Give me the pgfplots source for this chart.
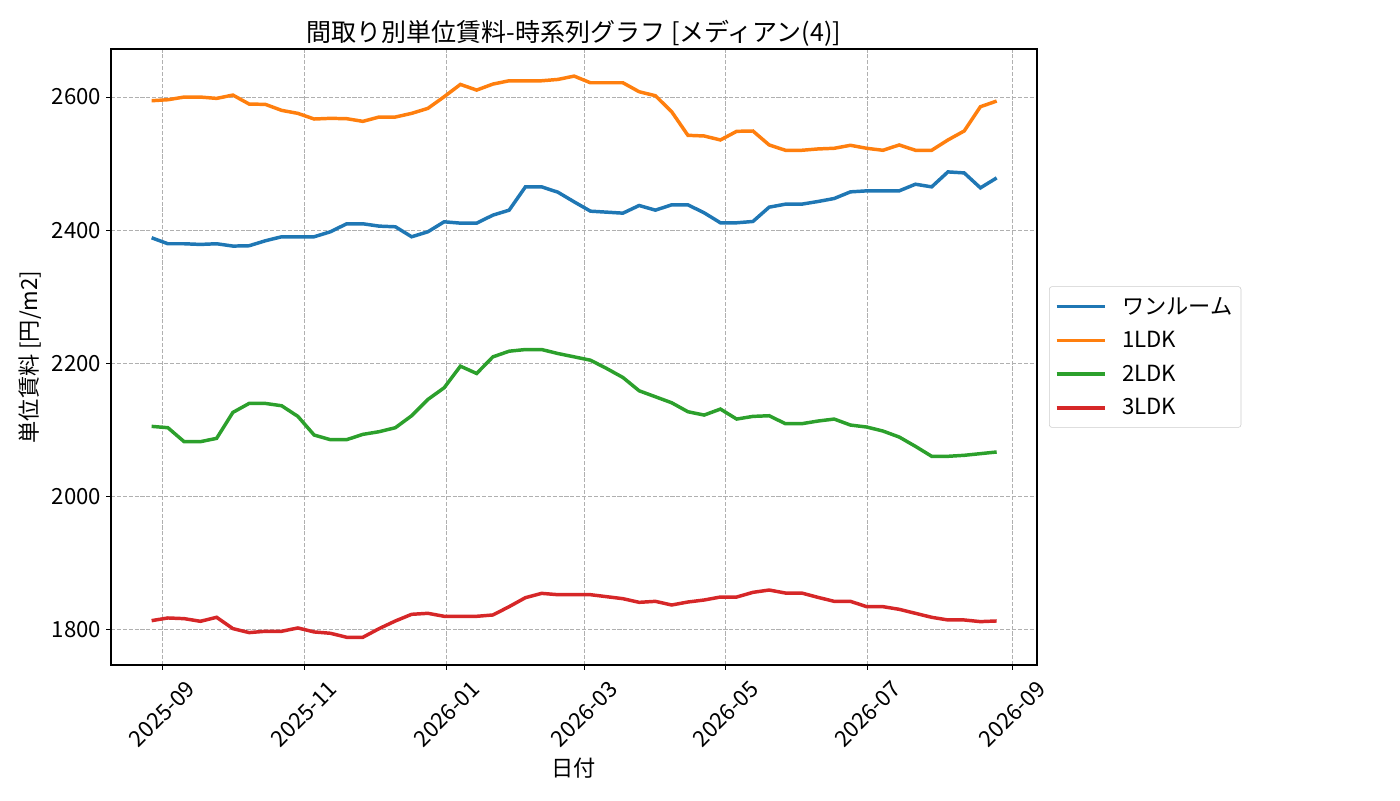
\documentclass[border=0pt]{standalone}
\usepackage{fontspec}
\setmainfont{Noto Sans CJK JP}
\usepackage{pgfplots}
\pgfplotsset{compat=1.18}
\usepackage{pgfplotstable}

\definecolor{c0}{HTML}{1F77B4}
\definecolor{c1}{HTML}{FF7F0E}
\definecolor{c2}{HTML}{2CA02C}
\definecolor{c3}{HTML}{D62728}
\definecolor{gridgray}{HTML}{B0B0B0}
\definecolor{framegray}{HTML}{CCCCCC}

% weekly medians, x = week index
\pgfplotstableread{
i one ldk1 ldk2 ldk3
0 2388.5 2594.5 2105 1813
1 2379.5 2596 2103 1817
2 2379.5 2600 2082 1816
3 2378.5 2600 2082 1812
4 2379.5 2598 2087 1818
5 2376 2603 2126 1801
6 2376.5 2589.5 2139.5 1795
7 2384 2589 2139.5 1797
8 2390 2580 2136 1797
9 2390 2575.5 2120 1802
10 2390 2567 2092 1796
11 2397.5 2568 2085 1794
12 2409.5 2567.5 2085 1788
13 2409.5 2563.5 2093 1788
14 2406 2570 2097 1801
15 2405 2570 2103 1812.5
16 2390 2575.5 2121 1822.5
17 2397.5 2583 2145.5 1824
18 2412.5 2600.5 2163 1819.5
19 2410.5 2619 2195.5 1819.5
20 2410.5 2610.5 2184.5 1819.5
21 2422.5 2619.5 2209.5 1821.5
22 2430 2624.5 2218 1834
23 2465 2624.5 2220.5 1847.5
24 2465 2624.5 2220.5 1854
25 2457 2626.5 2214.5 1852
26 2442.5 2631.5 2209.5 1852
27 2428.5 2621.5 2204.5 1852
28 2427 2621.5 2192 1849
29 2425.5 2621.5 2178.5 1846
30 2437 2608 2158.5 1840.5
31 2430 2602 2149.5 1842
32 2438 2578 2140.5 1836.5
33 2438 2542.5 2127 1841
34 2426 2541.5 2122 1844
35 2411 2535.5 2131 1848.5
36 2411 2548.5 2116 1848.5
37 2413 2549 2120 1855.5
38 2434.5 2528 2121 1859
39 2439 2520 2109 1854.5
40 2439 2520 2109 1854.5
41 2443 2522 2113 1848
42 2447.5 2523 2116 1842
43 2457.5 2527.5 2107 1842
44 2459 2523 2104 1834
45 2459 2520 2098 1834
46 2459 2528 2089 1830
47 2469 2520 2075 1824
48 2465 2520 2060 1818
49 2487.5 2535.5 2060 1814
50 2486 2549 2061.5 1814
51 2463.5 2585.5 2064 1811.5
52 2478.5 2594 2066.5 1812.5
}\rent

\begin{document}
\begin{tikzpicture}
\begin{axis}[
  name=ax,
  at={(0,0)}, anchor=south west,
  scale only axis,
  width=666.7pt, height=443.5pt,
  xmin=-2.5, xmax=54.48,
  ymin=1746.3, ymax=2672.2,
  xtick={0.65,9.39,18.15,26.62,35.33,44.04,52.96},
  xticklabels={2025-09,2025-11,2026-01,2026-03,2026-05,2026-07,2026-09},
  ytick={1800,2000,2200,2400,2600},
  /pgf/number format/assume math mode=true,
  /pgf/number format/1000 sep={},
  tick align=outside, tick pos=left,
  major tick length=3.5pt,
  every tick/.style={black, line width=0.8pt},
  axis line style={line width=0.8pt},
  grid=major,
  major grid style={gridgray, line width=0.8pt, dash pattern=on 2.96pt off 1.28pt},
  ticklabel style={font=\fontsize{16}{19}\selectfont},
  xticklabel style={anchor=center, yshift=-31.7pt, rotate=45},
  title={間取り別単位賃料-時系列グラフ [メディアン(4)]},
  title style={font=\fontsize{18}{21}\selectfont, at={(axis description cs:0.5,1.012)}, anchor=center},
  xlabel={日付},
  xlabel style={font=\fontsize{16}{19}\selectfont, at={(axis description cs:0.5,-0.167)}, anchor=center},
  ylabel={単位賃料 [円/m2]},
  ylabel style={font=\fontsize{16}{19}\selectfont, at={(axis description cs:-0.0875,0.5)}, anchor=center},
  legend cell align=left,
  legend style={
    at={(1.013,0.5)}, anchor=west,
    draw=framegray, rounded corners=2pt,
    font=\fontsize{16}{19}\selectfont,
    inner xsep=4pt, inner ysep=5.5pt,
    row sep=7pt,
    /tikz/every odd column/.append style={column sep=9pt},
  },
  legend image code/.code={\draw[#1, line width=2.5pt] (0pt,0pt) -- (35pt,0pt);},
]
\addplot [c0, line width=2.5pt] table [x=i, y=one] {\rent};
\addlegendentry{ワンルーム}
\addplot [c1, line width=2.5pt] table [x=i, y=ldk1] {\rent};
\addlegendentry{1LDK}
\addplot [c2, line width=2.5pt] table [x=i, y=ldk2] {\rent};
\addlegendentry{2LDK}
\addplot [c3, line width=2.5pt] table [x=i, y=ldk3] {\rent};
\addlegendentry{3LDK}
\end{axis}
\pgfresetboundingbox
\path[use as bounding box] ([shift={(-79.92pt,-97.2pt)}]ax.south west) rectangle ([shift={(928.08pt,478.8pt)}]ax.south west);
\end{tikzpicture}
\end{document}
